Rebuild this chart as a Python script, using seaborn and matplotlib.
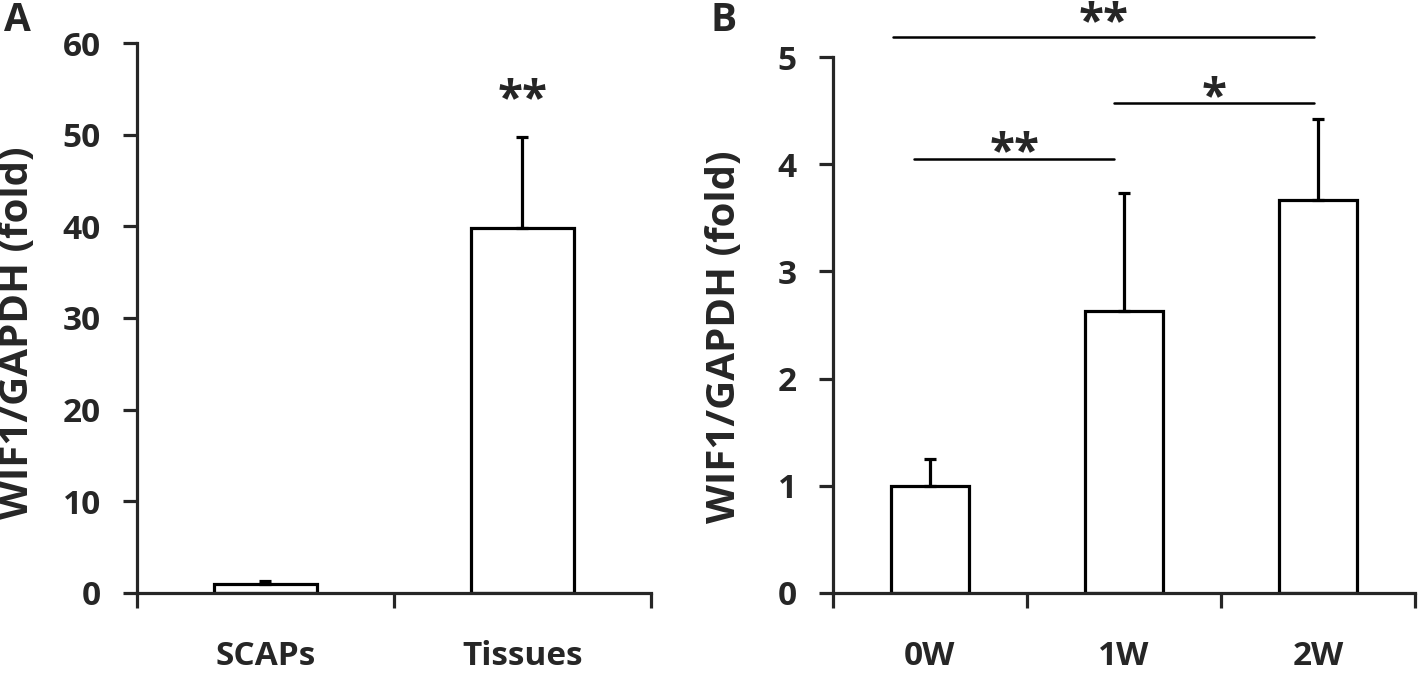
import matplotlib
matplotlib.use("Agg")
import matplotlib.pyplot as plt
import seaborn as sns
import pandas as pd

# dados do painel A
grupos_a = ["SCAPs", "Tissues"]
media_a = [1.0, 39.8]
erro_a = [0.3, 9.9]

# dados do painel B
grupos_b = ["0W", "1W", "2W"]
media_b = [1.0, 2.63, 3.67]
erro_b = [0.25, 1.1, 0.75]

rotulo_y = "WIF1/GAPDH (fold)"

sns.set_style("ticks")
plt.rcParams['font.family'] = ['Open Sans', 'DejaVu Sans']
plt.rcParams['font.weight'] = 'bold'

LW = 2.3
FS = 24       # rotulos dos ticks
FS_Y = 29     # rotulo do eixo y
FS_AST = 33   # asteriscos


def desenhar_barras(ax, grupos, media, erro, ymax, passo):
    df = pd.DataFrame({"grupo": grupos, "valor": media})
    sns.barplot(data=df, x="grupo", y="valor", ax=ax, color="white",
                edgecolor="black", linewidth=LW, width=0.4, errorbar=None)
    ax.errorbar(range(len(grupos)), media, yerr=[[0] * len(erro), erro],
                fmt="none", ecolor="black", elinewidth=LW, capsize=4.5, capthick=LW)
    n = len(grupos)
    ax.set_xlim(-0.5, n - 0.5)
    ax.set_ylim(0, ymax)
    ax.set_yticks([i * passo for i in range(int(ymax / passo) + 1)])
    ax.set_xticks(range(n))
    ax.set_xticks([i - 0.5 for i in range(n + 1)], minor=True)
    ax.tick_params(axis="x", which="major", length=0, pad=34, labelsize=FS)
    ax.tick_params(axis="x", which="minor", length=11, width=LW, direction="out")
    ax.tick_params(axis="y", length=10, width=LW, direction="out", pad=16, labelsize=FS)
    for lbl in ax.get_xticklabels() + ax.get_yticklabels():
        lbl.set_fontweight("bold")
    for s in ["top", "right"]:
        ax.spines[s].set_visible(False)
    for s in ["left", "bottom"]:
        ax.spines[s].set_linewidth(LW)
    ax.set_xlabel("")
    ax.set_ylabel(rotulo_y, fontsize=FS_Y, fontweight="bold")


fig = plt.figure(figsize=(14.18, 6.73), dpi=100)
ax_a = fig.add_axes([0.0966, 0.1189, 0.3625, 0.8172])
ax_b = fig.add_axes([0.5874, 0.1189, 0.4104, 0.7964])

desenhar_barras(ax_a, grupos_a, media_a, erro_a, 60, 10)
desenhar_barras(ax_b, grupos_b, media_b, erro_b, 5, 1)
ax_a.yaxis.set_label_coords(-0.195, 0.473)
ax_b.yaxis.set_label_coords(-0.153, 0.478)

# significancia
ax_a.text(1.0, 53.7, "**", ha="center", va="center", fontsize=FS_AST, fontweight="bold")

def colchete(ax, x0, x1, y, txt, ty):
    ax.plot([x0, x1], [y, y], color="black", lw=1.8, clip_on=False)
    ax.text((x0 + x1) / 2, ty, txt, ha="center", va="center",
            fontsize=FS_AST, fontweight="bold", clip_on=False)

colchete(ax_b, -0.19, 1.98, 5.19, "**", 5.31)
colchete(ax_b, 0.95, 1.98, 4.57, "*", 4.61)
colchete(ax_b, -0.08, 0.95, 4.05, "**", 4.10)

fig.text(0.003, 0.97, "A", fontsize=28, fontweight="bold", va="center", ha="left")
fig.text(0.501, 0.97, "B", fontsize=28, fontweight="bold", va="center", ha="left")

fig.savefig("out.png", dpi=100)
